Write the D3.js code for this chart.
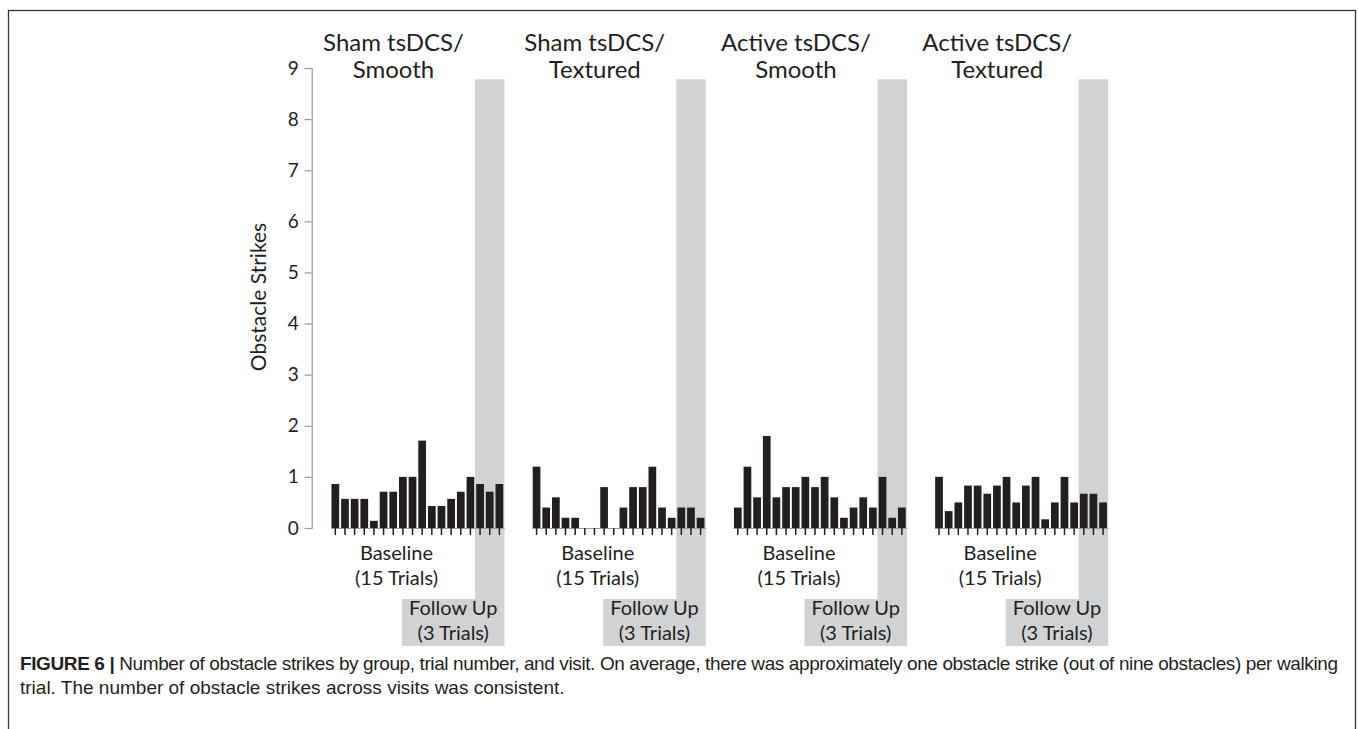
<!DOCTYPE html>
<html>
<head>
<meta charset="utf-8">
<script src="https://cdn.jsdelivr.net/npm/d3@7"></script>
<style>
  body { margin: 0; background: #fff; }
  svg { display: block; }
  .chart-text { font-family: Lato, "Open Sans", sans-serif; fill: #231f20; }
</style>
</head>
<body>
<svg id="chart" width="1358" height="729"></svg>
<script>
// ---- data ----
var groupTitles = [["Sham tsDCS/", "Smooth"], ["Sham tsDCS/", "Textured"],
                   ["Active tsDCS/", "Smooth"], ["Active tsDCS/", "Textured"]];
var trials = [1, 2, 3, 4, 5, 6, 7, 8, 9, 10, 11, 12, 13, 14, 15, 16, 17, 18];
var yTicks = [0, 1, 2, 3, 4, 5, 6, 7, 8, 9];

var shamSmooth     = [0.86, 0.57, 0.57, 0.57, 0.14, 0.71, 0.71, 1.0, 1.0, 1.71, 0.43, 0.43, 0.57, 0.71, 1.0, 0.86, 0.71, 0.86];
var shamTextured   = [1.2, 0.4, 0.6, 0.2, 0.2, 0, 0, 0.8, 0, 0.4, 0.8, 0.8, 1.2, 0.4, 0.2, 0.4, 0.4, 0.2];
var activeSmooth   = [0.4, 1.2, 0.6, 1.8, 0.6, 0.8, 0.8, 1.0, 0.8, 1.0, 0.6, 0.2, 0.4, 0.6, 0.4, 1.0, 0.2, 0.4];
var activeTextured = [1.0, 0.33, 0.5, 0.83, 0.83, 0.67, 0.83, 1.0, 0.5, 0.83, 1.0, 0.17, 0.5, 1.0, 0.5, 0.67, 0.67, 0.5];

var groupValues = [shamSmooth, shamTextured, activeSmooth, activeTextured];
var baselineLabel = ["Baseline", "(15 Trials)"];
var followLabel = ["Follow Up", "(3 Trials)"];
var captionBold = "FIGURE 6 | ";
var captionLine1 = "Number of obstacle strikes by group, trial number, and visit. On average, there was approximately one obstacle strike (out of nine obstacles) per walking";
var captionLine2 = "trial. The number of obstacle strikes across visits was consistent.";

// ---- layout ----
var svg = d3.select("#chart");
var barColor = "#231f20", shadeColor = "#d1d2d4", axisGrey = "#9a9a9a";
var step = 9.65, panelW = step * trials.length;

var y = d3.scaleLinear().domain([0, 9]).range([528, 68]);

// panel origins (left edge of each x band range)
var panelX = d3.scalePoint().domain(d3.range(groupTitles.length)).range([330.5, 934.2]);

// figure frame
svg.append("rect")
    .attr("x", 8.5).attr("y", 10.5)
    .attr("width", 1347).attr("height", 800)
    .attr("fill", "none").attr("stroke", "#333").attr("stroke-width", 1.3);

// y axis
var yAxis = d3.axisLeft(y).tickValues(yTicks).tickSize(7).tickPadding(6);
var yg = svg.append("g")
    .attr("transform", "translate(311.7,0)")
    .call(yAxis);
yg.selectAll("path, line").attr("stroke", axisGrey).attr("stroke-width", 1.2);
yg.selectAll("text").attr("class", "chart-text").style("font-size", "19px").attr("fill", "#231f20");

svg.append("text")
    .attr("class", "chart-text")
    .attr("transform", "translate(266,297) rotate(-90)")
    .attr("text-anchor", "middle")
    .style("font-size", "21px")
    .text("Obstacle Strikes");

groupTitles.forEach(function(title, i) {
  var r0 = panelX(i);
  var x = d3.scaleBand().domain(trials).range([r0, r0 + panelW]).paddingInner(0.2).paddingOuter(0.1);
  var g = svg.append("g");
  var vals = groupValues[i];

  // follow-up shading
  var shadeX0 = x(trials[15]) - 1.2, shadeX1 = r0 + panelW + 0.3;
  g.append("rect")
      .attr("x", shadeX0).attr("y", y(8.78))
      .attr("width", shadeX1 - shadeX0).attr("height", 599 - y(8.78))
      .attr("fill", shadeColor);
  g.append("rect")
      .attr("x", shadeX1 - 102.5).attr("y", 599)
      .attr("width", 102.5).attr("height", 47)
      .attr("fill", shadeColor);

  // bars
  g.selectAll("rect.bar")
      .data(vals)
    .enter().append("rect")
      .attr("class", "bar")
      .attr("x", function(d, j) { return x(trials[j]); })
      .attr("width", x.bandwidth())
      .attr("y", function(d) { return y(d); })
      .attr("height", function(d) { return y(0) - y(d); })
      .attr("fill", barColor);

  // x axis
  var xg = g.append("g")
      .attr("transform", "translate(0," + y(0) + ")")
      .call(d3.axisBottom(x).tickSize(7).tickSizeOuter(0).tickFormat(""));
  xg.select(".domain").attr("stroke", axisGrey).attr("stroke-width", 1.2);
  xg.selectAll(".tick line").attr("stroke", barColor).attr("stroke-width", 1.5);

  // titles
  var cx = r0 + 63;
  title.forEach(function(t, k) {
    g.append("text").attr("class", "chart-text")
        .attr("x", cx).attr("y", 51 + k * 27)
        .attr("text-anchor", "middle").style("font-size", "24px")
        .text(t);
  });

  baselineLabel.forEach(function(t, k) {
    g.append("text").attr("class", "chart-text")
        .attr("x", r0 + 66).attr("y", 560 + k * 25)
        .attr("text-anchor", "middle").style("font-size", "20px")
        .text(t);
  });
  followLabel.forEach(function(t, k) {
    g.append("text").attr("class", "chart-text")
        .attr("x", shadeX1 - 51.25).attr("y", 615 + k * 25)
        .attr("text-anchor", "middle").style("font-size", "20px")
        .text(t);
  });
});

// caption
var cap = svg.append("g").style("font-family", "'Liberation Sans', Arial, sans-serif")
    .style("font-size", "19px").attr("fill", "#231f20");
var l1 = cap.append("text").attr("x", 20).attr("y", 670)
    .attr("textLength", 1318).attr("lengthAdjust", "spacing");
l1.append("tspan").style("font-weight", "bold").text(captionBold);
l1.append("tspan").text(captionLine1);
cap.append("text").attr("x", 20).attr("y", 694).text(captionLine2);
</script>
</body>
</html>
